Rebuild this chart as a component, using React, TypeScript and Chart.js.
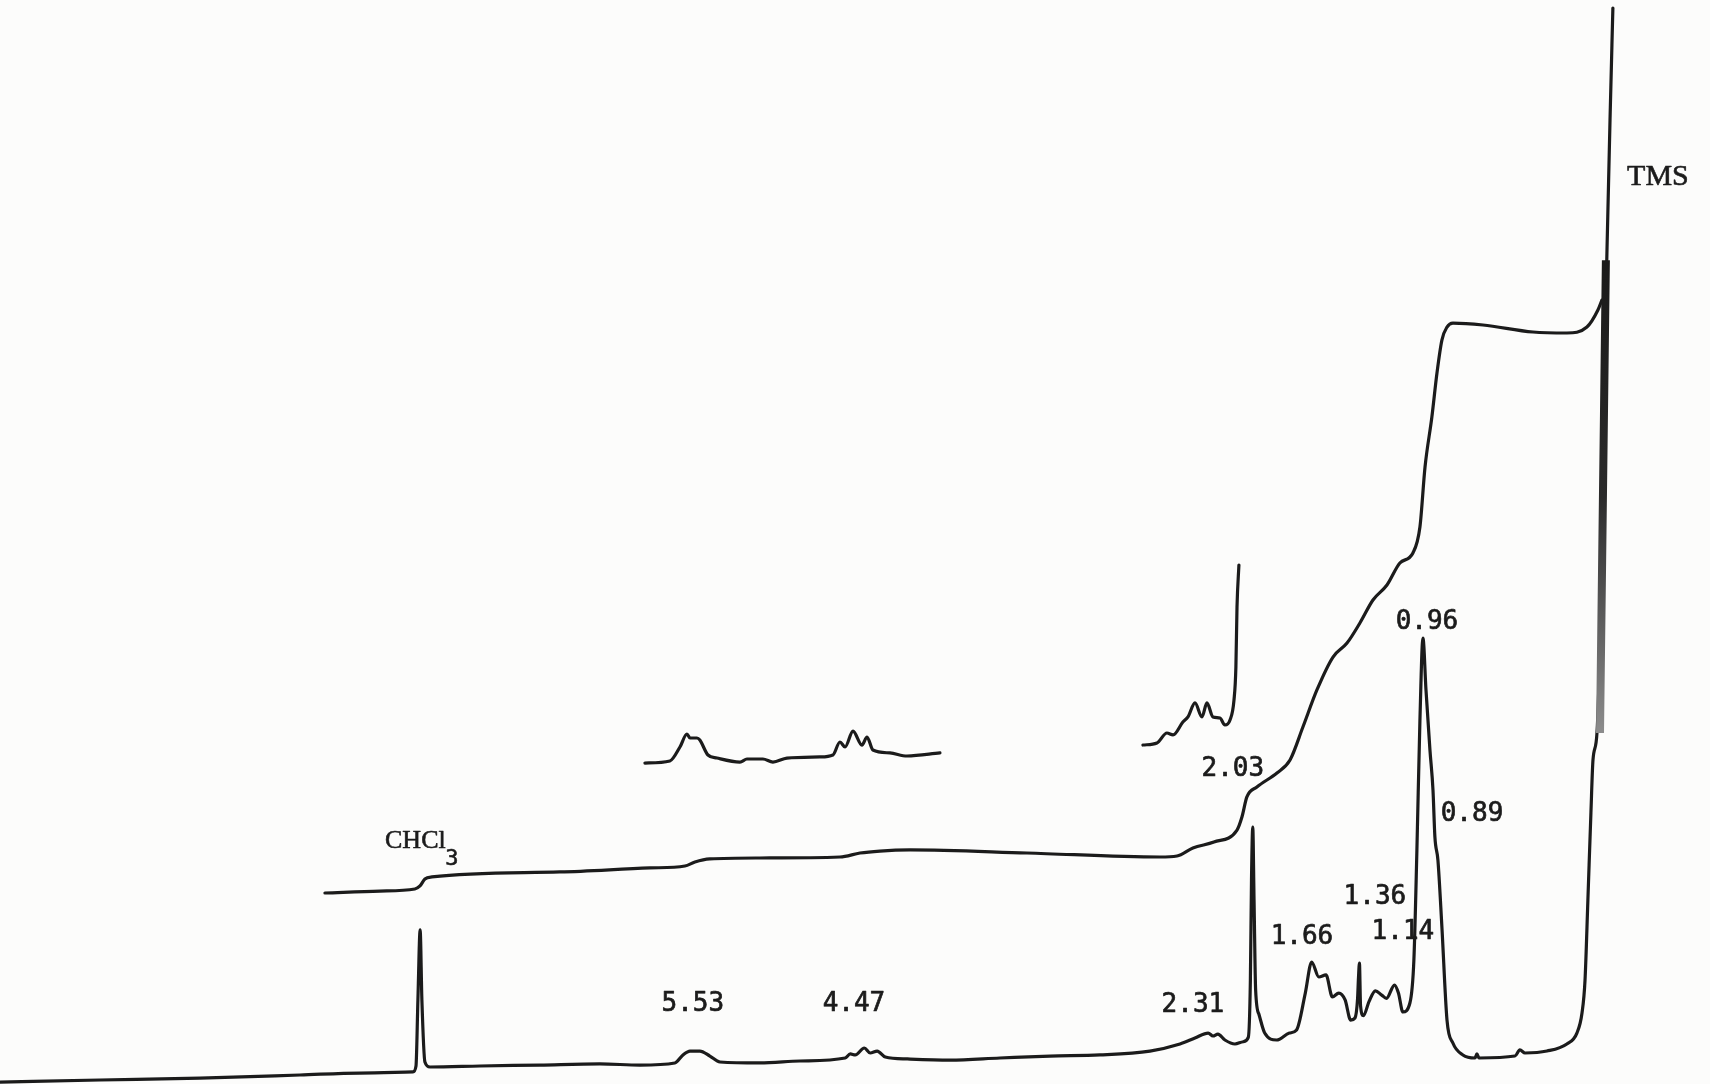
import { useEffect, useRef } from 'react';
import { Chart, registerables } from 'chart.js';

Chart.register(...registerables);

// Chemical-shift window of the recorder sweep (ppm, right = upfield)
const PPM_LOW = -0.842;
const PPM_HIGH = 9.899;

// Main 1H trace: [ppm, relative pen height]
const spectrum: [number, number][] = [
  [9.899, 0.18], [9.271, 0.37], [8.643, 0.55], [8.015, 0.83], [7.638, 1.01], [7.305, 1.11],
  [7.286, 1.66], [7.274, 7.75], [7.26, 14.21], [7.249, 7.75], [7.23, 2.03], [7.198, 1.57],
  [6.884, 1.66], [6.508, 1.75], [6.131, 1.85], [5.879, 1.75], [5.66, 1.94], [5.609, 2.68],
  [5.565, 3.04], [5.503, 3.04], [5.44, 2.58], [5.377, 2.03], [5.126, 1.94], [4.874, 2.12],
  [4.59, 2.4], [4.558, 2.77], [4.527, 2.68], [4.47, 3.32], [4.433, 2.86], [4.389, 3.04],
  [4.338, 2.49], [4.2, 2.31], [3.932, 2.21], [3.618, 2.4], [3.304, 2.58], [2.99, 2.68],
  [2.676, 3.04], [2.487, 3.69], [2.393, 4.24], [2.31, 4.7], [2.28, 4.43], [2.249, 4.61],
  [2.205, 4.06], [2.142, 3.69], [2.09, 3.9], [2.058, 4.3], [2.045, 9.59], [2.038, 18.82],
  [2.03, 23.71], [2.022, 16.97], [2.012, 8.67], [1.99, 6.37], [1.955, 4.7], [1.88, 4.06],
  [1.8, 4.7], [1.755, 4.98], [1.7, 8.39], [1.66, 11.25], [1.615, 9.87], [1.57, 10.06],
  [1.53, 8.03], [1.49, 8.39], [1.45, 7.75], [1.415, 5.9], [1.388, 6.09], [1.372, 7.8],
  [1.366, 9.8], [1.36, 11.16], [1.353, 7.2], [1.335, 6.3], [1.3, 7.6], [1.26, 8.6],
  [1.22, 8.2], [1.19, 7.9], [1.14, 9.13], [1.115, 8.39], [1.087, 6.64], [1.043, 7.47],
  [1.018, 11.44], [0.999, 21.59], [0.98, 33.58], [0.961, 41.14], [0.942, 36.35], [0.917, 30.81],
  [0.898, 27.12], [0.886, 22.79], [0.867, 20.66], [0.842, 14.48], [0.81, 5.9], [0.773, 3.78],
  [0.71, 2.68], [0.634, 2.4], [0.622, 2.77], [0.609, 2.4], [0.383, 2.58], [0.352, 3.14],
  [0.32, 2.86], [0.182, 3.04], [0.057, 3.69], [-0.006, 4.7], [-0.038, 6.55], [-0.057, 9.59],
  [-0.075, 16.97], [-0.094, 25.0], [-0.107, 29.89], [-0.132, 32.38], [-0.157, 44.65],
  [-0.182, 67.71], [-0.195, 76.94], [-0.214, 88.93], [-0.232, 99.26],
];

// Integral trace
const integral: [number, number][] = [
  [7.858, 17.62], [7.513, 17.8], [7.293, 17.99], [7.261, 18.27], [7.23, 18.91], [7.186, 19.1],
  [6.382, 19.56], [5.817, 19.93], [5.597, 20.11], [5.534, 20.48], [5.44, 20.76], [5.126, 20.85],
  [4.623, 20.94], [4.497, 21.31], [4.372, 21.49], [4.183, 21.59], [3.449, 21.31], [2.613, 20.94],
  [2.506, 21.03], [2.406, 21.77], [2.274, 22.32], [2.129, 23.43], [2.098, 24.63], [2.067, 26.48],
  [2.004, 27.4], [1.878, 28.69], [1.796, 29.89], [1.715, 32.93], [1.627, 36.35], [1.526, 39.39],
  [1.438, 40.68], [1.357, 42.53], [1.275, 44.65], [1.187, 46.03], [1.106, 48.06], [1.024, 48.99],
  [0.98, 51.38], [0.948, 56.92], [0.905, 61.53], [0.873, 65.59], [0.842, 68.63], [0.81, 69.83],
  [0.773, 70.2], [0.584, 70.02], [0.27, 69.37], [0.057, 69.28], [-0.069, 69.83], [-0.138, 71.4],
  [-0.163, 72.32],
];

// Offset expansion of the 5.53 / 4.47 region
const expansionOlefinic: [number, number][] = [
  [5.848, 29.61], [5.691, 29.8], [5.628, 31.09], [5.584, 32.29], [5.565, 31.92], [5.521, 31.92],
  [5.503, 31.73], [5.452, 30.35], [5.396, 30.07], [5.251, 29.7], [5.207, 29.98], [5.107, 29.98],
  [5.044, 29.7], [4.956, 30.07], [4.749, 30.17], [4.667, 30.35], [4.623, 31.55], [4.591, 31.09],
  [4.541, 32.56], [4.485, 31.27], [4.453, 32.01], [4.416, 30.81], [4.309, 30.54], [4.202, 30.26],
  [3.995, 30.54],
];

// Offset expansion of the 2.31 multiplet running into the 2.03 singlet
const expansionAllylic: [number, number][] = [
  [2.72, 31.27], [2.632, 31.46], [2.569, 32.38], [2.531, 32.2], [2.469, 33.39], [2.437, 33.86],
  [2.393, 35.15], [2.349, 33.86], [2.318, 35.15], [2.28, 33.86], [2.236, 33.76], [2.205, 33.12],
  [2.173, 33.58], [2.148, 35.42], [2.136, 38.47], [2.129, 44.0], [2.117, 47.88],
];

// Saturated pen band of the reference signal
const tmsBand: [number, number][] = [[-0.151, 32.38], [-0.188, 76.0]];

// Peak annotations: text centre in [ppm, height]
const shiftLabels: { text: string; ppm: number; level: number }[] = [
  { text: '0.96', ppm: 0.936, level: 42.62 },
  { text: '2.03', ppm: 2.155, level: 29.06 },
  { text: '0.89', ppm: 0.653, level: 24.91 },
  { text: '1.36', ppm: 1.263, level: 17.25 },
  { text: '1.14', ppm: 1.087, level: 14.02 },
  { text: '1.66', ppm: 1.721, level: 13.56 },
  { text: '2.31', ppm: 2.406, level: 7.29 },
  { text: '5.53', ppm: 5.547, level: 7.38 },
  { text: '4.47', ppm: 4.535, level: 7.38 },
];

const solventLabel = { text: 'CHCl', sub: '3', ppm: 7.29, level: 22.42, subPpm: 7.06, subLevel: 20.7 };
const referenceLabel = { text: 'TMS', ppm: -0.515, level: 83.67 };

const INK = '#1b1b1b';
const PAPER = '#fcfcfb';

const toPoints = (arr: [number, number][]) => arr.map(([x, y]) => ({ x, y }));

export default function App() {
  const canvasRef = useRef<HTMLCanvasElement | null>(null);

  useEffect(() => {
    document.body.style.margin = '0';
    const canvas = canvasRef.current;
    if (!canvas) return;

    const paperPlugin = {
      id: 'paper',
      beforeDraw(chart: any) {
        const { ctx, width, height } = chart;
        ctx.save();
        ctx.fillStyle = PAPER;
        ctx.fillRect(0, 0, width, height);
        ctx.restore();
      },
    };

    const annotationPlugin = {
      id: 'shiftAnnotations',
      afterDatasetsDraw(chart: any) {
        const { ctx, scales } = chart;
        const xs = scales.x;
        const ys = scales.y;
        const put = (text: string, ppm: number, level: number, font: string, weight: number) => {
          ctx.font = font;
          ctx.lineWidth = weight;
          const px = xs.getPixelForValue(ppm);
          const py = ys.getPixelForValue(level);
          ctx.strokeText(text, px, py);
          ctx.fillText(text, px, py);
        };
        ctx.save();
        ctx.fillStyle = INK;
        ctx.strokeStyle = INK;
        ctx.lineJoin = 'round';
        ctx.textAlign = 'center';
        ctx.textBaseline = 'middle';
        for (const l of shiftLabels) {
          put(l.text, l.ppm, l.level, '26px "DejaVu Sans Mono", monospace', 0.7);
        }
        put(solventLabel.text, solventLabel.ppm, solventLabel.level, '26px "Liberation Serif", serif', 0.6);
        put(solventLabel.sub, solventLabel.subPpm, solventLabel.subLevel, '22px "DejaVu Sans Mono", monospace', 0.6);
        put(referenceLabel.text, referenceLabel.ppm, referenceLabel.level, '30px "Liberation Serif", serif', 0.6);
        ctx.restore();
      },
    };

    const bandColor = (context: any) => {
      const chart = context.chart;
      const { ctx, chartArea, scales } = chart;
      if (!chartArea) return '#333';
      const top = scales.y.getPixelForValue(tmsBand[1][1]);
      const bottom = scales.y.getPixelForValue(tmsBand[0][1]);
      const g = ctx.createLinearGradient(0, top, 0, bottom);
      g.addColorStop(0, '#1a1a1a');
      g.addColorStop(0.5, '#2a2a2a');
      g.addColorStop(0.75, '#5a5a5a');
      g.addColorStop(1, '#8c8c8c');
      return g;
    };

    const lineStyle = {
      showLine: true,
      pointRadius: 0,
      pointHoverRadius: 0,
      borderColor: INK,
      borderWidth: 3.2,
      fill: false,
      borderJoinStyle: 'round' as const,
      borderCapStyle: 'round' as const,
      cubicInterpolationMode: 'monotone' as const,
    };

    const chart = new Chart(canvas, {
      type: 'scatter',
      data: {
        datasets: [
          { ...lineStyle, label: 'TMS band', data: toPoints(tmsBand), borderColor: bandColor, borderWidth: 8, borderCapStyle: 'butt' as const },
          { ...lineStyle, label: 'spectrum', data: toPoints(spectrum) },
          { ...lineStyle, label: 'integral', data: toPoints(integral) },
          { ...lineStyle, label: 'expansion 5.5-4.4', data: toPoints(expansionOlefinic) },
          { ...lineStyle, label: 'expansion 2.7-2.1', data: toPoints(expansionAllylic) },
        ],
      },
      options: {
        responsive: false,
        animation: false,
        devicePixelRatio: 1,
        layout: { padding: 0 },
        events: [],
        plugins: {
          legend: { display: false },
          tooltip: { enabled: false },
          title: { display: false },
        },
        scales: {
          x: { type: 'linear', min: PPM_LOW, max: PPM_HIGH, reverse: true, display: false },
          y: { type: 'linear', min: 0, max: 100, display: false },
        },
      },
      plugins: [paperPlugin, annotationPlugin],
    });

    return () => chart.destroy();
  }, []);

  return (
    <div style={{ width: 1710, height: 1084 }}>
      <canvas ref={canvasRef} width={1710} height={1084} style={{ display: 'block', width: 1710, height: 1084 }} />
    </div>
  );
}
